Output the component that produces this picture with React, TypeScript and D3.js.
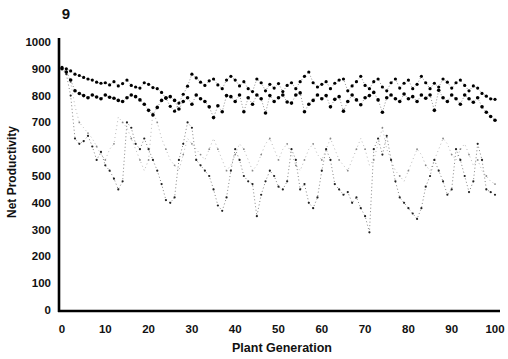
import React from "react";
import * as d3 from "d3";

const generations: number[] = d3.range(0, 101);

const seriesA: number[] = [
  905, 900, 892, 880, 875, 868, 862, 858, 850, 846,
  848, 840, 852, 836, 845, 858, 838, 832, 828, 848,
  842, 830, 826, 812, 790, 760, 742, 772, 805, 835,
  880, 866, 850, 838, 855, 862, 840, 826, 858, 872,
  858, 836, 852, 826, 815, 862, 848, 818, 842, 828,
  845, 815, 838, 848, 826, 852, 872, 888, 848, 832,
  842, 852, 826, 846, 858, 862, 818, 836, 852, 872,
  838, 826, 852, 862, 832, 818, 848, 862, 828, 846,
  858, 826, 842, 872, 848, 826, 846, 832, 862, 850,
  828, 848, 858, 838, 818, 836, 828, 808, 798, 788,
  786,
];

const seriesB: number[] = [
  900, 888, 858, 818, 808, 800, 792, 802, 795, 788,
  802, 794, 790, 782, 778, 792, 802, 796, 784, 768,
  745, 728, 756, 782, 792, 796, 782, 750, 778, 792,
  768, 802, 788, 778, 758, 718, 762, 740, 800, 796,
  778, 802, 740, 792, 768, 802, 788, 735, 800, 778,
  792, 802, 776, 772, 802, 810, 740, 768, 782, 802,
  788, 800, 758, 786, 796, 742, 778, 802, 784, 766,
  792, 800, 812, 784, 738, 792, 802, 788, 778, 806,
  788, 796, 778, 802, 790, 802, 745, 820, 792, 778,
  802, 788, 768, 802, 788, 775, 792, 758, 738, 722,
  708,
];

const seriesC: number[] = [
  900, 880, 800, 640, 620, 630, 650, 610, 560, 590,
  540, 520, 490, 450, 480, 700, 680, 620, 600, 640,
  600, 560, 520, 470, 410, 400, 420, 560, 620, 700,
  680, 560, 540, 520, 500, 450, 390, 370, 420, 520,
  600, 560, 500, 480, 470, 350, 430, 480, 520, 500,
  460, 450, 480, 600, 560, 450, 470, 400, 380, 420,
  520, 600, 560, 470, 450, 430, 440, 400, 420, 380,
  350, 290, 600, 640, 580, 650, 560, 480, 420, 400,
  380, 360, 340, 380, 460, 500, 560, 520, 480, 430,
  450, 600, 560, 500, 440, 480, 620, 560, 450, 440,
  430,
];

const seriesD: number[] = [
  900, 890, 850, 760, 700, 680, 660, 640, 610, 580,
  560, 600, 620, 720, 700, 680, 640, 600, 560, 520,
  560, 740, 700, 640, 600, 560, 540, 520, 580, 640,
  620, 600, 580, 560, 600, 640, 600, 560, 520, 540,
  580, 620, 600, 560, 520, 540, 580, 620, 640, 600,
  560, 600, 620, 580, 540, 520, 560, 600, 620, 580,
  560, 600, 640, 600, 560, 540, 520, 560, 600, 640,
  600, 540, 560, 620, 680, 600, 560, 520, 500, 480,
  520, 560, 600, 580, 540, 520, 560, 600, 640, 620,
  580, 560, 600, 620, 580, 540, 560, 520, 500, 480,
  470,
];

const yTicks: number[] = [0, 100, 200, 300, 400, 500, 600, 700, 800, 900, 1000];
const xTicks: number[] = [0, 10, 20, 30, 40, 50, 60, 70, 80, 90, 100];

const W = 508;
const H = 359;
const FONT = "'Liberation Sans', Arial, sans-serif";

export default function App() {
  const x = d3.scaleLinear().domain([0, 100]).range([62, 495]);
  const y = d3.scaleLinear().domain([0, 1000]).range([310, 42]);
  const line = d3
    .line<number>()
    .x((_, i) => x(generations[i]))
    .y((d) => y(d));

  const styles = [
    { data: seriesD, stroke: "#aaa", width: 0.8, dash: "1,3", r: 0.9, fill: "#888", every: 2 },
    { data: seriesC, stroke: "#666", width: 0.8, dash: "1,2.5", r: 1.1, fill: "#222", every: 1 },
    { data: seriesB, stroke: "#777", width: 0.8, dash: "1,2", r: 1.8, fill: "#000", every: 1 },
    { data: seriesA, stroke: "#777", width: 0.8, dash: "1,2", r: 1.6, fill: "#000", every: 1 },
  ];

  return (
    <svg
      width={W}
      height={H}
      style={{ position: "absolute", left: 0, top: 0, background: "#fff" }}
    >
      <rect x={0} y={0} width={W} height={H} fill="#fff" />
      <text x={66} y={19} fontFamily={FONT} fontSize={15} fontWeight="bold" textAnchor="middle" fill="#111">
        9
      </text>

      {styles.map((s, k) => (
        <g key={k}>
          <path d={line(s.data) || ""} fill="none" stroke={s.stroke} strokeWidth={s.width} strokeDasharray={s.dash} />
          {s.data.map((v, i) =>
            i % s.every === 0 ? (
              <circle key={i} cx={x(generations[i])} cy={y(v)} r={s.r} fill={s.fill} />
            ) : null
          )}
        </g>
      ))}

      <line x1={59} y1={38} x2={59} y2={312} stroke="#000" strokeWidth={2.6} />
      <line x1={58} y1={311} x2={500} y2={311} stroke="#000" strokeWidth={2.6} />

      {yTicks.map((t) => (
        <text key={t} x={51} y={y(t) + 4} fontFamily={FONT} fontSize={11.5} fontWeight="bold" textAnchor="end" fill="#111">
          {t}
        </text>
      ))}
      {xTicks.map((t) => (
        <text key={t} x={x(t)} y={333} fontFamily={FONT} fontSize={11.5} fontWeight="bold" textAnchor="middle" fill="#111">
          {t}
        </text>
      ))}

      <text
        transform={`translate(16,172) rotate(-90)`}
        fontFamily={FONT}
        fontSize={12}
        fontWeight="bold"
        textAnchor="middle"
        fill="#111"
      >
        Net Productivity
      </text>
      <text x={282} y={352} fontFamily={FONT} fontSize={12.5} fontWeight="bold" textAnchor="middle" fill="#111">
        Plant Generation
      </text>
    </svg>
  );
}
